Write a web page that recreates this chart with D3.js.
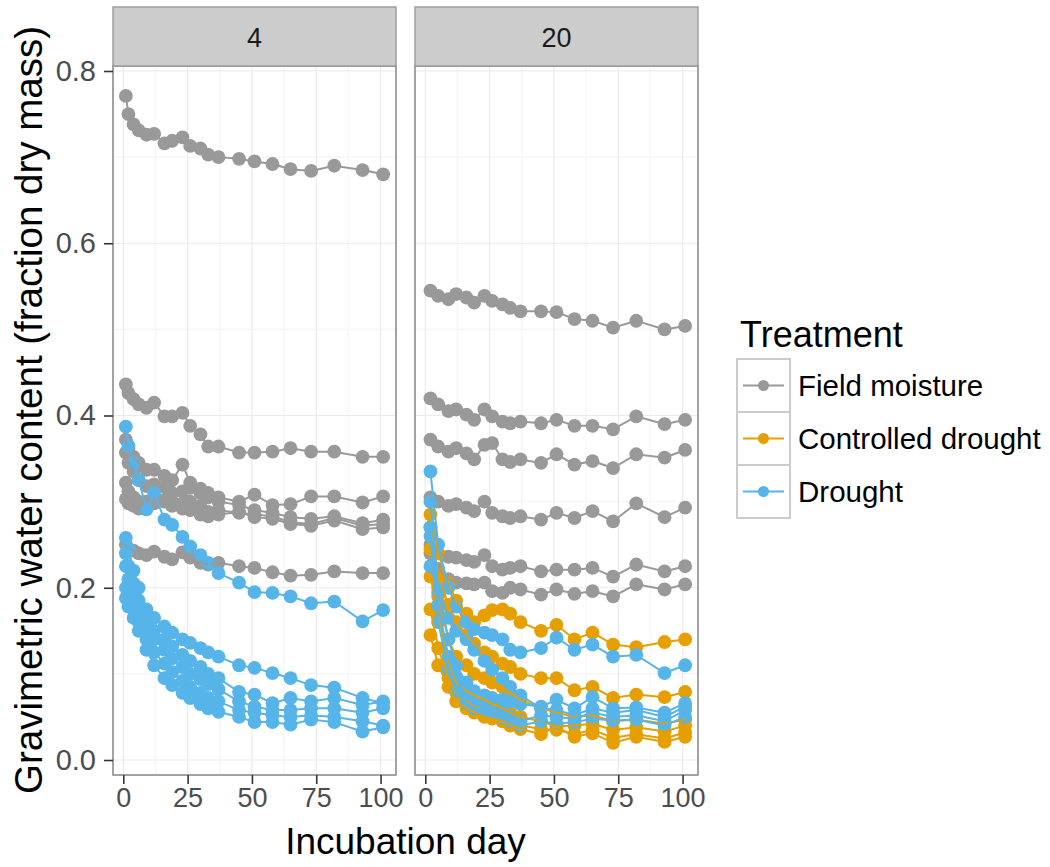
<!DOCTYPE html>
<html lang="en">
<head>
<meta charset="UTF-8">
<title>Gravimetric water content by incubation day</title>
<script src="https://d3js.org/d3.v7.min.js"></script>
<style>
  body { margin: 0; background: #fff; }
  svg { font-family: "Liberation Sans", Arial, Helvetica, sans-serif; }
</style>
</head>
<body>
<svg id="chart" width="1050" height="867"></svg>
<script>
// sampling days per facet
const days4 = [1, 2, 4, 6, 9, 12, 16, 19, 23, 26, 30, 33, 37, 45, 51, 58, 65, 73, 82, 93, 101];
const days20 = [2, 5, 9, 12, 16, 19, 23, 26, 30, 33, 37, 45, 51, 58, 65, 73, 82, 93, 101];

const treatments = ["Field moisture", "Controlled drought", "Drought"];
const treatmentColors = ["#999999", "#E69F00", "#56B4E9"];

const xTicks = [0, 25, 50, 75, 100];
const yTicks = [0, 0.2, 0.4, 0.6, 0.8];

// facet "4"
const field4 = [
  [0.771, 0.750, 0.738, 0.731, 0.726, 0.727, 0.716, 0.719, 0.723, 0.713, 0.710, 0.703, 0.700, 0.698, 0.695, 0.692, 0.686, 0.684, 0.690, 0.685, 0.680],
  [0.436, 0.426, 0.419, 0.413, 0.409, 0.415, 0.399, 0.399, 0.403, 0.388, 0.378, 0.364, 0.364, 0.357, 0.357, 0.358, 0.362, 0.358, 0.358, 0.352, 0.352],
  [0.372, 0.362, 0.352, 0.345, 0.337, 0.337, 0.330, 0.325, 0.343, 0.322, 0.315, 0.310, 0.305, 0.300, 0.308, 0.296, 0.297, 0.306, 0.306, 0.299, 0.306],
  [0.357, 0.345, 0.335, 0.325, 0.318, 0.320, 0.317, 0.310, 0.312, 0.316, 0.310, 0.305, 0.300, 0.296, 0.290, 0.287, 0.282, 0.280, 0.283, 0.275, 0.279],
  [0.322, 0.312, 0.305, 0.300, 0.300, 0.305, 0.302, 0.300, 0.298, 0.300, 0.295, 0.288, 0.290, 0.287, 0.285, 0.283, 0.276, 0.274, 0.281, 0.272, 0.274],
  [0.303, 0.298, 0.295, 0.292, 0.300, 0.298, 0.300, 0.295, 0.292, 0.290, 0.285, 0.283, 0.285, 0.288, 0.282, 0.280, 0.274, 0.272, 0.278, 0.268, 0.270],
  [0.250, 0.245, 0.243, 0.240, 0.238, 0.242, 0.236, 0.233, 0.241, 0.235, 0.229, 0.227, 0.229, 0.225, 0.223, 0.218, 0.214, 0.215, 0.219, 0.217, 0.217]
];
const drought4 = [
  [0.387, 0.365, 0.345, 0.325, 0.291, 0.310, 0.279, 0.273, 0.259, 0.248, 0.238, 0.229, 0.217, 0.206, 0.195, 0.194, 0.190, 0.182, 0.184, 0.161, 0.174],
  [0.258, 0.245, 0.220, 0.200, 0.175, 0.165, 0.155, 0.148, 0.140, 0.136, 0.130, 0.125, 0.120, 0.110, 0.107, 0.101, 0.095, 0.087, 0.084, 0.072, 0.066],
  [0.240, 0.225, 0.205, 0.185, 0.165, 0.150, 0.140, 0.132, 0.122, 0.115, 0.108, 0.100, 0.095, 0.079, 0.076, 0.066, 0.072, 0.068, 0.072, 0.064, 0.068],
  [0.225, 0.210, 0.190, 0.175, 0.155, 0.140, 0.128, 0.118, 0.108, 0.100, 0.094, 0.088, 0.082, 0.068, 0.062, 0.058, 0.058, 0.060, 0.060, 0.055, 0.060],
  [0.200, 0.190, 0.175, 0.160, 0.140, 0.125, 0.112, 0.102, 0.092, 0.085, 0.078, 0.072, 0.068, 0.058, 0.055, 0.052, 0.050, 0.052, 0.050, 0.045, 0.040],
  [0.188, 0.178, 0.165, 0.150, 0.128, 0.110, 0.095, 0.087, 0.078, 0.072, 0.065, 0.060, 0.056, 0.050, 0.044, 0.044, 0.041, 0.047, 0.044, 0.033, 0.038]
];

// facet "20"
const field20 = [
  [0.545, 0.539, 0.535, 0.541, 0.537, 0.531, 0.539, 0.533, 0.529, 0.525, 0.521, 0.521, 0.520, 0.512, 0.510, 0.502, 0.510, 0.500, 0.504],
  [0.420, 0.413, 0.405, 0.407, 0.401, 0.395, 0.407, 0.399, 0.393, 0.391, 0.393, 0.391, 0.395, 0.388, 0.388, 0.384, 0.399, 0.390, 0.395],
  [0.372, 0.364, 0.358, 0.362, 0.356, 0.349, 0.366, 0.368, 0.349, 0.346, 0.349, 0.345, 0.355, 0.343, 0.347, 0.339, 0.355, 0.351, 0.360],
  [0.305, 0.300, 0.295, 0.297, 0.293, 0.289, 0.300, 0.287, 0.283, 0.281, 0.283, 0.279, 0.287, 0.281, 0.289, 0.277, 0.298, 0.282, 0.293],
  [0.250, 0.240, 0.236, 0.235, 0.232, 0.230, 0.238, 0.225, 0.221, 0.223, 0.225, 0.219, 0.221, 0.221, 0.223, 0.213, 0.227, 0.219, 0.225],
  [0.240, 0.222, 0.210, 0.206, 0.205, 0.204, 0.206, 0.196, 0.194, 0.200, 0.198, 0.192, 0.198, 0.193, 0.196, 0.190, 0.204, 0.198, 0.204]
];
const controlled20 = [
  [0.285, 0.240, 0.205, 0.185, 0.170, 0.160, 0.168, 0.174, 0.175, 0.170, 0.160, 0.150, 0.157, 0.140, 0.148, 0.134, 0.131, 0.137, 0.140],
  [0.270, 0.215, 0.180, 0.160, 0.145, 0.135, 0.125, 0.120, 0.112, 0.108, 0.100, 0.095, 0.095, 0.081, 0.085, 0.072, 0.076, 0.073, 0.079],
  [0.245, 0.190, 0.140, 0.120, 0.110, 0.100, 0.095, 0.090, 0.085, 0.078, 0.070, 0.060, 0.055, 0.050, 0.052, 0.045, 0.047, 0.042, 0.047],
  [0.213, 0.170, 0.115, 0.090, 0.080, 0.075, 0.070, 0.065, 0.060, 0.055, 0.050, 0.045, 0.039, 0.040, 0.042, 0.035, 0.038, 0.033, 0.040],
  [0.175, 0.130, 0.095, 0.078, 0.068, 0.062, 0.058, 0.055, 0.050, 0.045, 0.040, 0.036, 0.035, 0.030, 0.035, 0.026, 0.030, 0.025, 0.032],
  [0.145, 0.110, 0.085, 0.068, 0.060, 0.055, 0.050, 0.048, 0.045, 0.040, 0.036, 0.030, 0.039, 0.027, 0.031, 0.020, 0.027, 0.021, 0.027]
];
const drought20 = [
  [0.335, 0.250, 0.200, 0.178, 0.160, 0.152, 0.148, 0.145, 0.140, 0.128, 0.125, 0.130, 0.142, 0.128, 0.134, 0.120, 0.122, 0.101, 0.110],
  [0.300, 0.200, 0.140, 0.110, 0.090, 0.080, 0.075, 0.072, 0.070, 0.068, 0.065, 0.062, 0.070, 0.060, 0.073, 0.060, 0.061, 0.055, 0.066],
  [0.270, 0.180, 0.120, 0.095, 0.075, 0.066, 0.060, 0.058, 0.055, 0.050, 0.045, 0.052, 0.050, 0.048, 0.055, 0.050, 0.052, 0.045, 0.058],
  [0.260, 0.160, 0.105, 0.080, 0.066, 0.060, 0.058, 0.055, 0.050, 0.045, 0.040, 0.045, 0.042, 0.044, 0.048, 0.046, 0.047, 0.040, 0.050],
  [0.225, 0.195, 0.165, 0.150, 0.140, 0.128, 0.115, 0.105, 0.095, 0.085, 0.075, 0.060, 0.058, 0.052, 0.060, 0.055, 0.058, 0.050, 0.062]
];

(() => {
  const svg = d3.select("#chart");
  const panelTop = 66, panelBottom = 775, stripTop = 7;

  const color = d3.scaleOrdinal().domain(treatments).range(treatmentColors);
  const y = d3.scaleLinear().domain([-0.0174, 0.8058]).range([panelBottom, panelTop]);

  const panels = [
    { label: "4", left: 113, right: 396, days: days4,
      groups: [[treatments[0], field4], [treatments[2], drought4]] },
    { label: "20", left: 415, right: 698, days: days20,
      groups: [[treatments[0], field20], [treatments[1], controlled20], [treatments[2], drought20]] }
  ];

  panels.forEach((p, pi) => {
    const x = d3.scaleLinear().domain([-4, 106]).range([p.left, p.right]);
    const g = svg.append("g");

    // panel background + grid
    g.append("rect").attr("x", p.left).attr("y", panelTop)
      .attr("width", p.right - p.left).attr("height", panelBottom - panelTop).attr("fill", "#fff");

    const xMinor = [12.5, 37.5, 62.5, 87.5];
    const yMinor = [0.1, 0.3, 0.5, 0.7];
    g.selectAll("line.xminor").data(xMinor).enter().append("line")
      .attr("x1", d => x(d)).attr("x2", d => x(d)).attr("y1", panelTop).attr("y2", panelBottom)
      .attr("stroke", "#f7f7f7").attr("stroke-width", 1.6);
    g.selectAll("line.yminor").data(yMinor).enter().append("line")
      .attr("y1", d => y(d)).attr("y2", d => y(d)).attr("x1", p.left).attr("x2", p.right)
      .attr("stroke", "#f7f7f7").attr("stroke-width", 1.6);
    g.selectAll("line.xmajor").data(xTicks).enter().append("line")
      .attr("x1", d => x(d)).attr("x2", d => x(d)).attr("y1", panelTop).attr("y2", panelBottom)
      .attr("stroke", "#ebebeb").attr("stroke-width", 1.2);
    g.selectAll("line.ymajor").data(yTicks).enter().append("line")
      .attr("y1", d => y(d)).attr("y2", d => y(d)).attr("x1", p.left).attr("x2", p.right)
      .attr("stroke", "#ebebeb").attr("stroke-width", 1.2);

    // series
    const series = [];
    p.groups.forEach(([t, list]) => list.forEach(vals => {
      series.push({ t, pts: vals.map((v, i) => ({ day: p.days[i], v })) });
    }));

    const line = d3.line().x(d => x(d.day)).y(d => y(d.v));

    series.forEach(s => {
      g.append("g").selectAll("circle").data(s.pts).enter().append("circle")
        .attr("cx", d => x(d.day)).attr("cy", d => y(d.v)).attr("r", 6.9)
        .attr("fill", color(s.t));
    });
    series.forEach(s => {
      g.append("path").datum(s.pts).attr("d", line)
        .attr("fill", "none").attr("stroke", color(s.t)).attr("stroke-width", 2);
    });

    // panel border
    g.append("rect").attr("x", p.left).attr("y", panelTop)
      .attr("width", p.right - p.left).attr("height", panelBottom - panelTop)
      .attr("fill", "none").attr("stroke", "#8c8c8c").attr("stroke-width", 1.6);

    // strip
    g.append("rect").attr("x", p.left).attr("y", stripTop)
      .attr("width", p.right - p.left).attr("height", panelTop - stripTop)
      .attr("fill", "#cccccc").attr("stroke", "#9a9a9a").attr("stroke-width", 1.4);
    g.append("text").attr("x", (p.left + p.right) / 2).attr("y", 47)
      .attr("text-anchor", "middle").attr("font-size", 27).attr("fill", "#1a1a1a")
      .text(p.label);

    // x axis
    const xAxis = g.append("g").attr("transform", `translate(0,${panelBottom})`)
      .call(d3.axisBottom(x).tickValues(xTicks).tickSize(9).tickPadding(4).tickFormat(d3.format("d")));
    xAxis.select(".domain").remove();
    xAxis.selectAll(".tick line").attr("stroke", "#333").attr("stroke-width", 1.6);
    xAxis.selectAll(".tick text").attr("font-size", 27).attr("fill", "#4d4d4d")
      .attr("font-family", null);

    // y axis only on first panel
    if (pi === 0) {
      const yAxis = g.append("g").attr("transform", `translate(${p.left},0)`)
        .call(d3.axisLeft(y).tickValues(yTicks).tickSize(9).tickPadding(8).tickFormat(d3.format(".1f")));
      yAxis.select(".domain").remove();
      yAxis.selectAll(".tick line").attr("stroke", "#333").attr("stroke-width", 1.6);
      yAxis.selectAll(".tick text").attr("font-size", 29).attr("fill", "#4d4d4d")
        .attr("font-family", null);
    }
  });

  // axis titles
  svg.append("text")
    .attr("x", (113 + 698) / 2).attr("y", 854)
    .attr("text-anchor", "middle").attr("font-size", 37).attr("fill", "#000")
    .text("Incubation day");

  svg.append("text")
    .attr("transform", `translate(42,410) rotate(-90)`)
    .attr("text-anchor", "middle").attr("font-size", 38.5).attr("fill", "#000")
    .text("Gravimetric water content (fraction dry mass)");

  // legend
  const legend = svg.append("g").attr("transform", "translate(737,0)");
  legend.append("text").attr("x", 3).attr("y", 347)
    .attr("font-size", 36).attr("fill", "#000").text("Treatment");

  const keyW = 53, keyH = 53, keyTop = 359;
  const keys = legend.selectAll("g.key").data(treatments).enter().append("g")
    .attr("transform", (d, i) => `translate(0,${keyTop + i * keyH})`);
  keys.append("rect").attr("width", keyW).attr("height", keyH)
    .attr("fill", "#fff").attr("stroke", "#cccccc").attr("stroke-width", 2);
  keys.append("line").attr("x1", 6).attr("x2", keyW - 6)
    .attr("y1", keyH / 2).attr("y2", keyH / 2)
    .attr("stroke", d => color(d)).attr("stroke-width", 2);
  keys.append("circle").attr("cx", keyW / 2).attr("cy", keyH / 2).attr("r", 5.5)
    .attr("fill", d => color(d));
  keys.append("text").attr("x", keyW + 8).attr("y", keyH / 2).attr("dy", "0.36em")
    .attr("font-size", 29.5).attr("fill", "#000").text(d => d);
})();
</script>
</body>
</html>
